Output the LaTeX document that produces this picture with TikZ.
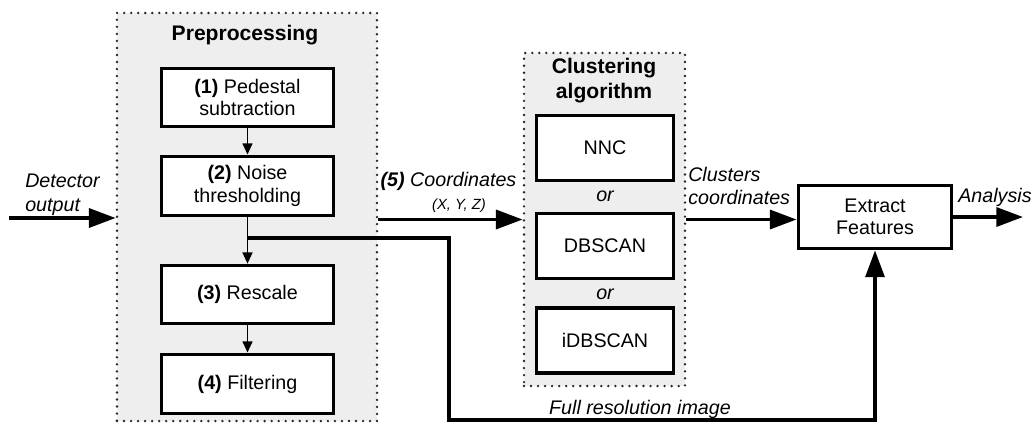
\documentclass[tikz,border=0pt]{standalone}
\usepackage{fontspec}
\setmainfont{Liberation Sans}
\usepackage{xcolor}
\usetikzlibrary{arrows.meta}
\definecolor{groupgray}{HTML}{EEEEEE}
\tikzset{
    step-box/.style = {draw=black, fill=white, line width=2.6pt, rectangle, align=center, font=\fontsize{14}{16}\selectfont},
    group-box/.style = {draw=black!85, fill=groupgray, line width=1.9pt, line cap=round, dash pattern=on 0pt off 5pt},
    group-title/.style = {font=\fontsize{15}{17.7}\selectfont\bfseries, align=center},
    label-text/.style = {font=\fontsize{14}{17}\selectfont\itshape, inner sep=0pt},
    big-arrow/.style = {line width=2.5pt, -{Triangle[length=19pt, width=13.5pt]}},
    small-arrow/.style = {line width=1.3pt, -{Triangle[length=8pt, width=7pt]}},
}
\begin{document}
\begin{tikzpicture}[x=0.025cm, y=-0.025cm]
\useasboundingbox (0,0) rectangle (1035,423);
% groups
\node[group-box, minimum width=6.5cm, minimum height=10.2cm] (pre) at (247,217) {};
\node[group-box, minimum width=4.025cm, minimum height=8.325cm] (clu) at (604.5,219.5) {};
\node[group-title] (pre-title) at (245,35) {Preprocessing};
\node[group-title] (clu-title) at (604,80.5) {Clustering\\algorithm};

% preprocessing steps
\node[step-box, minimum width=4.3cm, minimum height=1.45cm] (p1) at (247.5,97.5) {\textbf{(1)} Pedestal\\subtraction};
\node[step-box, minimum width=4.3cm, minimum height=1.48cm] (p2) at (247.5,186) {\textbf{(2)} Noise\\thresholding};
\node[step-box, minimum width=4.3cm, minimum height=1.45cm] (p3) at (247.5,294.5) {\textbf{(3)} Rescale};
\node[step-box, minimum width=4.3cm, minimum height=1.48cm] (p4) at (247.5,384) {\textbf{(4)} Filtering};
\foreach \a/\b in {p1/p2, p2/p3, p3/p4}
    \draw[small-arrow] (\a) -- (\b);

% clustering choices
\node[step-box, minimum width=3.43cm, minimum height=1.63cm] (nnc) at (605,148) {NNC};
\node[step-box, minimum width=3.43cm, minimum height=1.63cm] (db) at (605,246) {DBSCAN};
\node[step-box, minimum width=3.43cm, minimum height=1.63cm] (idb) at (605,340.5) {iDBSCAN};
\node[label-text] (or1) at (605,196) {or};
\node[label-text] (or2) at (605,294) {or};

\node[step-box, minimum width=3.83cm, minimum height=1.58cm] (feat) at (875,217) {Extract\\Features};

% connectors
\coordinate (in) at (9,218);
\coordinate (out) at (1023,217);
\coordinate (br) at (247.5,238);
\coordinate (bend) at (449,420);
\draw[big-arrow] (in) -- (in -| pre.west);
\draw[big-arrow] (pre.east |- clu.west) -- (clu.west);
\draw[big-arrow] (clu.east) -- (clu.east -| feat.west);
\draw[big-arrow] (feat.east) -- (out);
\draw[big-arrow, line width=2.2pt] (br) -| (bend) -| (feat.south);

% labels
\node[label-text, anchor=west, align=left] (in-label) at (25,195) {Detector\\output};
\node[label-text] (coord-label) at (448.5,181) {\textbf{(5)} Coordinates};
\node[label-text, font=\fontsize{10.5}{12}\selectfont\itshape] (xyz-label) at (459,206) {(X, Y, Z)};
\node[label-text, anchor=west, align=left] (clu-label) at (688,186) {Clusters\\coordinates};
\node[label-text] (out-label) at (995,197) {Analysis};
\node[label-text] (full-label) at (640,409) {Full resolution image};
\end{tikzpicture}
\end{document}
